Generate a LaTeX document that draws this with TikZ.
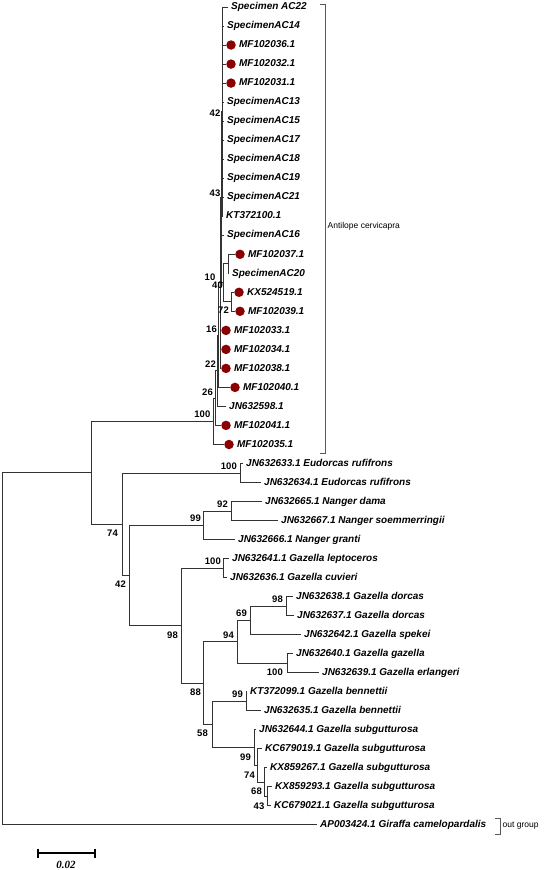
\documentclass[tikz,border=0pt]{standalone}
\usepackage{fontspec}
\setmainfont{Liberation Sans}
\newfontfamily\barfont{Liberation Serif}
\usetikzlibrary{positioning}
\definecolor{mfred}{RGB}{139,0,0}
\tikzset{
    br/.style={draw=black!80, line width=0.9pt},
    tip/.style={anchor=west, inner xsep=3pt, inner ysep=0pt, text height=7.5pt, text depth=2pt,
        font=\fontsize{10}{12}\selectfont\bfseries\itshape},
    dot/.style={circle, fill=mfred, inner sep=0pt, minimum size=9.5pt},
    bs/.style={anchor=east, inner sep=0pt, font=\fontsize{9.5}{11}\selectfont\bfseries},
    grp/.style={draw=black!65, line width=0.7pt},
    grplab/.style={anchor=west, inner sep=0pt, font=\fontsize{8.5}{10}\selectfont}
}
\begin{document}
\begin{tikzpicture}[x=1pt, y=-1pt]
    \useasboundingbox (0,0) rectangle (548,870);

    % internal nodes
    \coordinate (root) at (2,648.8); \coordinate (nTop) at (91,472.8);
    \coordinate (n100) at (213,421.3); \coordinate (n26) at (215.5,398.1);
    \coordinate (n22) at (217,370.8); \coordinate (n16) at (218.5,335.1);
    \coordinate (n10) at (220,282.8); \coordinate (n43) at (221,197.2);
    \coordinate (n42) at (222,111.6); \coordinate (n40) at (223.5,282.8);
    \coordinate (nA) at (228,263.8); \coordinate (n72) at (231.5,301.8);
    \coordinate (n74) at (122,524.2); \coordinate (nEud) at (240,473);
    \coordinate (n42b) at (129,575.5); \coordinate (n99) at (203,525.3);
    \coordinate (n92) at (231,511); \coordinate (n98) at (181,625.6);
    \coordinate (n100g) at (223,568.1); \coordinate (n88) at (203,683.1);
    \coordinate (n94) at (237,641.8); \coordinate (n69) at (250,620.4);
    \coordinate (n98d) at (286,606.1); \coordinate (n100z) at (287,663.2);
    \coordinate (n58) at (212,724.4); \coordinate (n99b) at (246,701.2);
    \coordinate (nS99) at (254,747.6); \coordinate (nS74) at (257.5,765.4);
    \coordinate (nS68) at (264,782); \coordinate (nS43) at (267,796.3);

    % Antilope clade
    \foreach \n/\x/\y/\t in {ac22/228/7/Specimen AC22, ac14/224/26/SpecimenAC14,
        ac13/224/102.1/SpecimenAC13, ac15/224/121.1/SpecimenAC15, ac17/224/140.1/SpecimenAC17,
        ac18/224/159.2/SpecimenAC18, ac19/224/178.2/SpecimenAC19, ac21/224/197.2/SpecimenAC21,
        kt00/223/216.2/KT372100.1, ac16/224/235.2/SpecimenAC16, ac20/229/273.3/SpecimenAC20,
        jn98/226/406.4/JN632598.1}
        \node[tip] (\n) at (\x,\y) {\t};
    \foreach \n/\x/\y/\t in {mf36/231/45/MF102036.1, mf32/231/64.1/MF102032.1,
        mf31/231/83.1/MF102031.1, mf37/240/254.3/MF102037.1, kx19/239/292.3/KX524519.1,
        mf39/240/311.3/MF102039.1, mf33/226/330.4/MF102033.1, mf34/226/349.4/MF102034.1,
        mf38/226/368.4/MF102038.1, mf40/235/387.4/MF102040.1, mf41/226/425.4/MF102041.1,
        mf35/229/444.5/MF102035.1}
    {
        \node[dot] (\n) at (\x,\y) {};
        \node[tip, right=0pt of \n] (\n-t) {\t};
    }

    % other gazelles and out group
    \foreach \n/\x/\y/\t in {jn33/243/463.5/JN632633.1 Eudorcas rufifrons,
        jn34/261/482.5/JN632634.1 Eudorcas rufifrons, jn65/262/501.5/JN632665.1 Nanger dama,
        jn67/278/520.6/JN632667.1 Nanger soemmerringii, jn66/235/539.6/JN632666.1 Nanger granti,
        jn41/229/558.6/JN632641.1 Gazella leptoceros, jn36/227/577.6/JN632636.1 Gazella cuvieri,
        jn38/293/596.6/JN632638.1 Gazella dorcas, jn37/294/615.7/JN632637.1 Gazella dorcas,
        jn42/301/634.7/JN632642.1 Gazella spekei, jn40/293/653.7/JN632640.1 Gazella gazella,
        jn39/319/672.7/JN632639.1 Gazella erlangeri, kt99/247/691.7/KT372099.1 Gazella bennettii,
        jn35/261/710.7/JN632635.1 Gazella bennettii, jn44/256/729.8/JN632644.1 Gazella subgutturosa,
        kc19/262/748.8/KC679019.1 Gazella subgutturosa, kx67/267/767.8/KX859267.1 Gazella subgutturosa,
        kx93/272/786.8/KX859293.1 Gazella subgutturosa, kc21/271/805.8/KC679021.1 Gazella subgutturosa,
        ap24/317/824.9/AP003424.1 Giraffa camelopardalis}
        \node[tip] (\n) at (\x,\y) {\t};

    % branches
    \foreach \p/\c in {root/nTop, root/ap24, nTop/n100, nTop/n74,
        n100/n26, n100/mf35, n26/n22, n26/mf41, n22/n16, n22/jn98, n16/n10, n16/mf40,
        n10/n43, n10/mf33, n10/mf34, n10/mf38, n43/n42, n43/ac16, n43/n40,
        n40/nA, n40/n72, nA/mf37, nA/ac20, n72/kx19, n72/mf39,
        n42/ac22, n42/ac14, n42/mf36, n42/mf32, n42/mf31, n42/ac13, n42/ac15,
        n42/ac17, n42/ac18, n42/ac19, n42/ac21, n42/kt00,
        n74/nEud, n74/n42b, nEud/jn33, nEud/jn34, n42b/n99, n42b/n98,
        n99/n92, n99/jn66, n92/jn65, n92/jn67, n98/n100g, n98/n88,
        n100g/jn41, n100g/jn36, n88/n94, n88/n58, n94/n69, n94/n100z,
        n69/n98d, n69/jn42, n98d/jn38, n98d/jn37, n100z/jn40, n100z/jn39,
        n58/n99b, n58/nS99, n99b/kt99, n99b/jn35, nS99/jn44, nS99/nS74,
        nS74/kc19, nS74/nS68, nS68/kx67, nS68/nS43, nS43/kx93, nS43/kc21}
        \draw[br] (\p) |- (\c);

    % bootstrap values
    \foreach \n/\x/\y/\v in {b42t/220.5/113/42, b43t/220.5/193/43, b10/215.5/277/10,
        b40/223/285/40, b72/229/310/72, b16/217/329/16, b22/216/364/22, b26/213/392/26,
        b100t/210.5/414/100, b74/118/533/74, b42/126/584/42, b100e/237/466/100,
        b99n/201/518/99, b92/228/504/92, b100g/221/561/100, b98/178/635/98,
        b94/234/635/94, b69/247/613/69, b98d/283/599/98, b88/201/692/88,
        b100z/283/672/100, b99b/243/694/99, b58/208/733/58, b99s/251/757/99,
        b74s/255/775/74, b68/262/791/68, b43s/264.5/806/43}
        \node[bs] (\n) at (\x,\y) {\v};

    % groups
    \draw[grp] (320,4) -- (325,4) -- (325,453) -- (320,453);
    \node[grplab] (antl) at (327.5,226) {Antilope cervicapra};
    \draw[grp] (495,818) -- (500,818) -- (500,834) -- (495,834);
    \node[grplab] (outg) at (502.5,826) {out group};

    % scale bar
    \coordinate (sbl) at (38,853); \coordinate (sbr) at (95,853);
    \draw[line width=1.6pt] (sbl) -- (sbr);
    \draw[line width=1.6pt] (38,848.5) -- (38,857.5); \draw[line width=1.6pt] (95,848.5) -- (95,857.5);
    \node[inner sep=0pt, font=\barfont\fontsize{11}{12}\selectfont\bfseries\itshape] (sbt) at (66,865) {0.02};
\end{tikzpicture}
\end{document}
